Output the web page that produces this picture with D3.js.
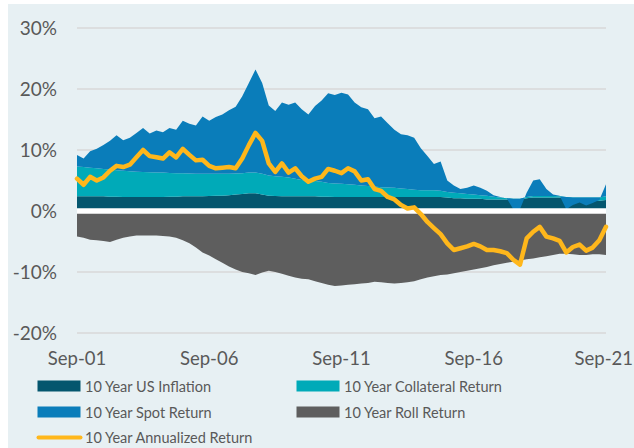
<!DOCTYPE html>
<html>
<head>
<meta charset="utf-8">
<script src="https://cdn.jsdelivr.net/npm/d3@7"></script>
<style>
  body { margin:0; background:#fff; }
  svg { display:block; font-family:'Lato', 'Open Sans', sans-serif; }
</style>
</head>
<body>
<svg id="chart" width="634" height="448"></svg>
<script>
// quarterly observations, Sep-01 .. Sep-21 (81 points)
const startDate = new Date(2001, 8, 1);
const endDate = new Date(2021, 8, 1);
const dates = d3.range(81).map(i => d3.timeMonth.offset(startDate, 3 * i));

const tickLabels = ["Sep-01", "Sep-06", "Sep-11", "Sep-16", "Sep-21"];
const yTicks = [-20, -10, 0, 10, 20, 30];

// 10 year rolling components, % per year
const inflation = [
  2.4, 2.4, 2.4, 2.4, 2.4, 2.35, 2.35, 2.3, 2.3, 2.3,
  2.3, 2.3, 2.3, 2.3, 2.35, 2.35, 2.4, 2.4, 2.4, 2.4,
  2.45, 2.5, 2.5, 2.6, 2.7, 2.8, 2.9, 2.9, 2.7, 2.5,
  2.45, 2.4, 2.4, 2.4, 2.4, 2.4, 2.4, 2.35, 2.35, 2.3,
  2.3, 2.3, 2.3, 2.3, 2.3, 2.3, 2.3, 2.3, 2.3, 2.3,
  2.3, 2.3, 2.3, 2.3, 2.3, 2.3, 2.2, 2.1, 2.1, 2.0,
  2.0, 2.0, 1.9, 1.9, 1.9, 1.9, 1.9, 1.9, 2.1, 2.2,
  2.2, 2.2, 2.2, 2.2, 2.0, 1.8, 1.7, 1.7, 1.7, 1.7,
  1.8
];
const collateral = [
  4.9, 4.8, 4.7, 4.6, 4.5, 4.45, 4.35, 4.3, 4.2, 4.15,
  4.1, 4.05, 4.0, 4.0, 3.9, 3.85, 3.8, 3.75, 3.7, 3.7,
  3.65, 3.6, 3.6, 3.5, 3.45, 3.4, 3.4, 3.4, 3.4, 3.3,
  3.25, 3.2, 3.1, 2.9, 2.7, 2.6, 2.5, 2.45, 2.25, 2.2,
  2.15, 2.1, 2.0, 1.9, 1.8, 1.7, 1.6, 1.55, 1.5, 1.4,
  1.3, 1.2, 1.1, 1.1, 1.1, 1.0, 0.9, 0.9, 0.8, 0.8,
  0.7, 0.6, 0.6, 0.45, 0.3, 0.2, 0.1, 0.1, 0.2, 0.25,
  0.25, 0.25, 0.25, 0.2, 0.3, 0.4, 0.5, 0.5, 0.5, 0.5,
  0.6
];
const spot = [
  1.9, 1.4, 2.7, 3.2, 3.9, 4.7, 5.7, 5.0, 5.5, 6.35,
  7.2, 6.35, 6.9, 6.6, 7.35, 7.1, 8.6, 8.15, 7.9, 9.4,
  8.7, 9.3, 9.7, 10.4, 10.95, 12.6, 14.7, 16.9, 14.9, 11.5,
  10.7, 12.2, 11.9, 12.5, 11.6, 10.8, 12.3, 13.3, 14.7, 14.5,
  14.95, 14.7, 13.5, 12.8, 12.6, 11.2, 11.6, 10.55, 9.5, 8.9,
  8.8, 8.5, 6.9, 5.6, 4.3, 4.8, 1.9, 1.2, 0.7, 1.0,
  1.5, 1.2, 0.8, 0.25, 0.1, -0.05, -1.7, -1.7, 0.7, 2.55,
  2.75, 1.15, 0.25, 0.1, -2.0, -1.2, -0.8, -1.3, -0.9, -0.4,
  2.0
];
const rollReturn = [
  -4.2, -4.4, -4.7, -4.8, -4.9, -5.1, -4.7, -4.4, -4.2, -4.0,
  -4.0, -4.0, -4.0, -4.1, -4.2, -4.4, -4.8, -5.3, -6.0, -6.8,
  -7.3, -7.9, -8.5, -9.1, -9.6, -10.0, -10.2, -10.5, -10.1, -9.8,
  -10.0, -10.3, -10.6, -10.9, -11.1, -11.2, -11.5, -11.8, -12.1, -12.3,
  -12.2, -12.1, -12.0, -11.9, -11.8, -11.6, -11.7, -11.8, -11.9, -11.8,
  -11.7, -11.5, -11.2, -10.9, -10.7, -10.5, -10.4, -10.2, -10.0, -9.8,
  -9.6, -9.4, -9.2, -8.9, -8.7, -8.5, -8.3, -8.1, -7.9, -7.8,
  -7.6, -7.4, -7.2, -7.0, -7.0, -7.1, -7.2, -7.2, -7.1, -7.1,
  -7.2
];
const annualized = [
  5.3, 4.3, 5.6, 5.0, 5.5, 6.6, 7.4, 7.2, 7.6, 8.8,
  10.0, 9.0, 8.8, 8.6, 9.6, 8.8, 10.2, 9.2, 8.3, 8.4,
  7.4, 7.0, 7.1, 7.2, 7.0, 8.6, 10.8, 12.8, 11.5, 7.8,
  6.4, 7.8, 6.3, 7.0, 5.7, 4.8, 5.3, 5.6, 6.9, 6.6,
  6.2, 7.0, 6.5, 5.0, 5.2, 3.6, 3.3, 2.3, 1.9, 1.0,
  0.4, 0.6, -0.5, -1.8, -2.8, -3.8, -5.3, -6.4, -6.1, -5.8,
  -5.4, -5.8, -6.4, -6.4, -6.6, -6.9, -8.0, -8.8, -4.5, -3.4,
  -2.6, -4.2, -4.5, -4.9, -6.8, -5.9, -5.5, -6.5, -6.0, -4.8,
  -2.6
];

const colors = {
  inflation: "#04566e",
  collateral: "#00aab8",
  spot: "#0a7dba",
  roll: "#5e5e5e",
  annualized: "#ffb71b",
  grid: "#d9d9d9",
  text: "#595959",
  panel: "#e7f0f3"
};

const svg = d3.select("#chart");

// panel background
svg.append("rect")
  .attr("x", 8).attr("y", 4)
  .attr("width", 626).attr("height", 444)
  .attr("fill", colors.panel);

const x = d3.scaleTime().domain([startDate, endDate]).range([77, 606]);
const y = d3.scaleLinear().domain([-20, 30]).range([333, 28]);

// gridlines
svg.append("g")
  .selectAll("line")
  .data(yTicks.filter(d => d !== 0))
  .join("line")
  .attr("x1", 77).attr("x2", 606)
  .attr("y1", d => y(d)).attr("y2", d => y(d))
  .attr("stroke", colors.grid)
  .attr("stroke-width", 1.5);

const rows = dates.map((d, i) => ({
  date: d,
  inflation: inflation[i],
  collateral: collateral[i],
  spot: spot[i],
  roll: rollReturn[i],
  total: annualized[i]
}));

// stacked positive components (spot can dip below the collateral top)
const stacked = d3.stack().keys(["inflation", "collateral", "spot"])(rows);

const area = d3.area()
  .x(d => x(d.data.date))
  .y0(d => y(d[0]))
  .y1(d => y(d[1]));

svg.append("g")
  .selectAll("path")
  .data(stacked)
  .join("path")
  .attr("d", area)
  .attr("fill", d => colors[d.key]);

// roll return below zero
const rollArea = d3.area()
  .x(d => x(d.date))
  .y0(() => y(0))
  .y1(d => y(d.roll));

svg.append("path")
  .attr("d", rollArea(rows))
  .attr("fill", colors.roll);

// zero line
svg.append("line")
  .attr("x1", 77).attr("x2", 606)
  .attr("y1", y(0)).attr("y2", y(0))
  .attr("stroke", "#fff")
  .attr("stroke-width", 5.5);

// annualized return
const line = d3.line()
  .x(d => x(d.date))
  .y(d => y(d.total));

svg.append("path")
  .attr("d", line(rows))
  .attr("fill", "none")
  .attr("stroke", colors.annualized)
  .attr("stroke-width", 4.5)
  .attr("stroke-linejoin", "round")
  .attr("stroke-linecap", "round");

// y axis labels
svg.append("g")
  .selectAll("text")
  .data(yTicks)
  .join("text")
  .attr("x", 57)
  .attr("y", d => y(d))
  .attr("dy", "0.35em")
  .attr("text-anchor", "end")
  .attr("font-size", 19)
  .attr("fill", colors.text)
  .text(d => d + "%");

// x axis labels (last one kept inside the panel)
const tickDates = tickLabels.map((t, i) => new Date(2001 + 5 * i, 8, 1));
svg.append("g")
  .selectAll("text")
  .data(tickLabels)
  .join("text")
  .attr("x", (d, i) => i === tickLabels.length - 1 ? 633 : x(tickDates[i]))
  .attr("y", 365)
  .attr("text-anchor", (d, i) => i === tickLabels.length - 1 ? "end" : "middle")
  .attr("font-size", 18.5)
  .attr("fill", colors.text)
  .text(d => d);

// legend
const legendItems = [
  { label: "10 Year US Inflation", key: "inflation", col: 0, row: 0, type: "box" },
  { label: "10 Year Collateral Return", key: "collateral", col: 1, row: 0, type: "box" },
  { label: "10 Year Spot Return", key: "spot", col: 0, row: 1, type: "box" },
  { label: "10 Year Roll Return", key: "roll", col: 1, row: 1, type: "box" },
  { label: "10 Year Annualized Return", key: "annualized", col: 0, row: 2, type: "line" }
];
const colX = [37.5, 296.5];
const rowY = [386, 412, 437.5];

const legend = svg.append("g")
  .selectAll("g")
  .data(legendItems)
  .join("g")
  .attr("transform", d => `translate(${colX[d.col]},${rowY[d.row]})`);

legend.filter(d => d.type === "box")
  .append("rect")
  .attr("x", 0).attr("y", -5.5)
  .attr("width", 43).attr("height", 11)
  .attr("fill", d => colors[d.key]);

legend.filter(d => d.type === "line")
  .append("line")
  .attr("x1", 1).attr("x2", 43)
  .attr("stroke", d => colors[d.key])
  .attr("stroke-width", 4)
  .attr("stroke-linecap", "round");

legend.append("text")
  .attr("x", 47.5)
  .attr("dy", "0.38em")
  .attr("font-size", 14.5)
  .attr("fill", colors.text)
  .text(d => d.label);
</script>
</body>
</html>
